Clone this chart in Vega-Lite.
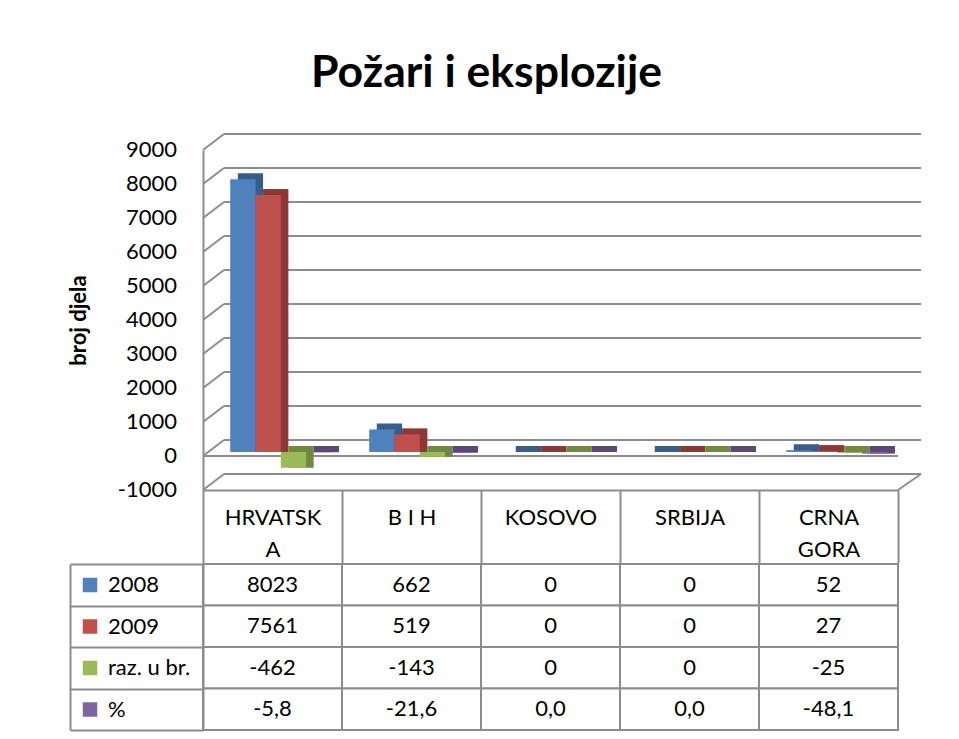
{
  "$schema": "https://vega.github.io/schema/vega-lite/v6.json",
  "background": "white",
  "padding": {"left": 67, "top": 50, "right": 5, "bottom": 5},
  "title": {"text": "Požari i eksplozije", "font": "Lato", "fontSize": 44.5, "fontWeight": "bold", "color": "#000000", "anchor": "middle", "frame": "bounds", "offset": 37, "dx": -8},
  "datasets": {
    "d": [
      {"drzava": "HRVATSKA", "serija": "2008", "v": 8023},
      {"drzava": "HRVATSKA", "serija": "2009", "v": 7561},
      {"drzava": "HRVATSKA", "serija": "raz. u br.", "v": -462},
      {"drzava": "HRVATSKA", "serija": "%", "v": -5.8},
      {"drzava": "B I H", "serija": "2008", "v": 662},
      {"drzava": "B I H", "serija": "2009", "v": 519},
      {"drzava": "B I H", "serija": "raz. u br.", "v": -143},
      {"drzava": "B I H", "serija": "%", "v": -21.6},
      {"drzava": "KOSOVO", "serija": "2008", "v": 0},
      {"drzava": "KOSOVO", "serija": "2009", "v": 0},
      {"drzava": "KOSOVO", "serija": "raz. u br.", "v": 0},
      {"drzava": "KOSOVO", "serija": "%", "v": 0.0},
      {"drzava": "SRBIJA", "serija": "2008", "v": 0},
      {"drzava": "SRBIJA", "serija": "2009", "v": 0},
      {"drzava": "SRBIJA", "serija": "raz. u br.", "v": 0},
      {"drzava": "SRBIJA", "serija": "%", "v": 0.0},
      {"drzava": "CRNA GORA", "serija": "2008", "v": 52},
      {"drzava": "CRNA GORA", "serija": "2009", "v": 27},
      {"drzava": "CRNA GORA", "serija": "raz. u br.", "v": -25},
      {"drzava": "CRNA GORA", "serija": "%", "v": -48.1}
    ],
    "grid": [
      {"v": -1000}, {"v": 0}, {"v": 1000}, {"v": 2000}, {"v": 3000}, {"v": 4000},
      {"v": 5000}, {"v": 6000}, {"v": 7000}, {"v": 8000}, {"v": 9000}
    ]
  },
  "spacing": 74,
  "bounds": "flush",
  "vconcat": [
    {
      "width": 695,
      "height": 340,
      "resolve": {"scale": {"xOffset": "independent", "color": "independent"}},
      "layer": [
        {
          "data": {"name": "grid"},
          "mark": {"type": "rule", "color": "#8c8c8c", "strokeWidth": 2, "xOffset": 21, "x2Offset": 23, "yOffset": -16},
          "encoding": {
            "x": {"datum": "HRVATSKA", "type": "nominal", "bandPosition": 0,
                  "scale": {"domain": ["HRVATSKA", "B I H", "KOSOVO", "SRBIJA", "CRNA GORA"], "paddingInner": 0, "paddingOuter": 0},
                  "axis": {"title": null, "labelFont": "Lato", "labelFontSize": 22, "labelColor": "#000000", "labelAngle": 0,
                           "labelBaseline": "top", "labelPadding": -56, "labelLineHeight": 32, "labelOverlap": false,
                           "labelExpr": "datum.value == 'HRVATSKA' ? ['HRVATSK', 'A'] : datum.value == 'CRNA GORA' ? ['CRNA', 'GORA'] : datum.value",
                           "tickBand": "extent", "tickSize": 73, "tickColor": "#8c8c8c", "tickWidth": 2,
                           "domainColor": "#8c8c8c", "domainWidth": 2, "grid": false}},
            "x2": {"datum": "CRNA GORA", "bandPosition": 1},
            "y": {"field": "v", "type": "quantitative",
                  "scale": {"domain": [-1000, 9000], "nice": false, "zero": false},
                  "axis": {"title": "broj djela", "titleFont": "Lato", "titleFontSize": 22, "titleFontWeight": "bold", "titleColor": "#000000", "titlePadding": 113,
                           "labels": false, "ticks": false, "grid": false,
                           "domainColor": "#8c8c8c", "domainWidth": 2,
                           "values": [-1000, 0, 1000, 2000, 3000, 4000, 5000, 6000, 7000, 8000, 9000]}}
          }
        },
        {
          "data": {"name": "grid"},
          "mark": {"type": "rule", "color": "#8c8c8c", "strokeWidth": 2, "x2Offset": 21, "y2Offset": -16},
          "encoding": {
            "x": {"datum": "HRVATSKA", "type": "nominal", "bandPosition": 0},
            "x2": {"datum": "HRVATSKA", "bandPosition": 0},
            "y": {"field": "v", "type": "quantitative"},
            "y2": {"field": "v"}
          }
        },
        {
          "data": {"name": "grid"},
          "mark": {"type": "text", "font": "Lato", "fontSize": 22, "color": "#000000", "align": "right", "baseline": "middle", "xOffset": -26},
          "encoding": {
            "x": {"datum": "HRVATSKA", "type": "nominal", "bandPosition": 0},
            "y": {"field": "v", "type": "quantitative"},
            "text": {"field": "v", "type": "quantitative", "format": "d"}
          }
        },
        {
          "data": {"values": [{}]},
          "mark": {"type": "rule", "color": "#8c8c8c", "strokeWidth": 2, "x2Offset": 23, "y2Offset": -16},
          "encoding": {
            "x": {"datum": "CRNA GORA", "type": "nominal", "bandPosition": 1},
            "x2": {"datum": "CRNA GORA", "bandPosition": 1},
            "y": {"datum": -1000, "type": "quantitative"},
            "y2": {"datum": -1000}
          }
        },
        {
          "data": {"values": [{}]},
          "mark": {"type": "rule", "color": "#8c8c8c", "strokeWidth": 2},
          "encoding": {
            "y": {"datum": 0, "type": "quantitative"}
          }
        },
        {
          "data": {"name": "d"},
          "transform": [{"filter": "datum.v >= 0"}],
          "mark": {"type": "bar", "yOffset": -10, "y2Offset": -4},
          "encoding": {
            "x": {"field": "drzava", "type": "nominal"},
            "xOffset": {"field": "serija", "type": "nominal",
                        "scale": {"domain": ["2008", "2009", "raz. u br.", "%"], "paddingInner": 0, "paddingOuter": 0.747, "align": 0.92}},
            "y": {"field": "v", "type": "quantitative"},
            "y2": {"datum": 0},
            "color": {"field": "serija", "type": "nominal",
                      "scale": {"domain": ["2008", "2009", "raz. u br.", "%"], "range": ["#385D8A", "#8C3836", "#71893F", "#5C4776"]},
                      "legend": null}
          }
        },
        {
          "data": {"name": "d"},
          "transform": [{"filter": "datum.v < 0"}],
          "mark": {"type": "bar", "yOffset": -4, "y2Offset": -10},
          "encoding": {
            "x": {"field": "drzava", "type": "nominal"},
            "xOffset": {"field": "serija", "type": "nominal",
                        "scale": {"domain": ["2008", "2009", "raz. u br.", "%"], "paddingInner": 0, "paddingOuter": 0.747, "align": 0.92}},
            "y": {"field": "v", "type": "quantitative"},
            "y2": {"datum": 0},
            "color": {"field": "serija", "type": "nominal",
                      "scale": {"domain": ["2008", "2009", "raz. u br.", "%"], "range": ["#385D8A", "#8C3836", "#71893F", "#5C4776"]},
                      "legend": null}
          }
        },
        {
          "data": {"name": "d"},
          "mark": {"type": "bar", "yOffset": -4, "y2Offset": -4},
          "encoding": {
            "x": {"field": "drzava", "type": "nominal"},
            "xOffset": {"field": "serija", "type": "nominal",
                        "scale": {"domain": ["2008", "2009", "raz. u br.", "%"], "paddingInner": 0, "paddingOuter": 0.747, "align": 0.72}},
            "y": {"field": "v", "type": "quantitative"},
            "y2": {"datum": 0},
            "color": {"field": "serija", "type": "nominal",
                      "scale": {"domain": ["2008", "2009", "raz. u br.", "%"], "range": ["#4F81BD", "#C0504D", "#9BBB59", "#8064A2"]},
                      "legend": {"orient": "none", "legendX": -124, "legendY": 424, "direction": "vertical", "title": null,
                                 "symbolType": "square", "symbolSize": 210, "symbolStrokeWidth": 0,
                                 "labelFont": "Lato", "labelFontSize": 22, "labelColor": "#000000", "labelOffset": 7,
                                 "rowPadding": 19.5, "padding": 0}}
          }
        }
      ]
    },
    {
      "width": 695,
      "height": 166,
      "data": {"name": "d"},
      "resolve": {"axis": {"y": "independent"}},
      "layer": [
        {
          "mark": {"type": "rect", "fill": "white", "stroke": "#8c8c8c", "strokeWidth": 2},
          "encoding": {
            "x": {"field": "drzava", "type": "nominal",
                  "scale": {"domain": ["HRVATSKA", "B I H", "KOSOVO", "SRBIJA", "CRNA GORA"], "paddingInner": 0, "paddingOuter": 0},
                  "axis": null},
            "y": {"field": "serija", "type": "nominal",
                  "scale": {"domain": ["2008", "2009", "raz. u br.", "%"], "paddingInner": 0, "paddingOuter": 0},
                  "axis": {"orient": "left", "title": null, "labels": false, "tickBand": "extent", "tickSize": 133,
                           "tickColor": "#8c8c8c", "tickWidth": 2, "domainColor": "#8c8c8c", "domainWidth": 2, "grid": false}}
          }
        },
        {
          "transform": [{"filter": "datum.serija != '%'"}],
          "mark": {"type": "text", "font": "Lato", "fontSize": 22, "color": "#000000"},
          "encoding": {
            "x": {"field": "drzava", "type": "nominal", "axis": null},
            "y": {"field": "serija", "type": "nominal",
                  "axis": {"orient": "left", "offset": 133, "title": null, "labels": false, "ticks": false,
                           "domainColor": "#8c8c8c", "domainWidth": 2, "grid": false}},
            "text": {"field": "v", "type": "quantitative", "format": "d"}
          }
        },
        {
          "transform": [{"filter": "datum.serija == '%'"}],
          "mark": {"type": "text", "font": "Lato", "fontSize": 22, "color": "#000000"},
          "encoding": {
            "x": {"field": "drzava", "type": "nominal", "axis": null},
            "y": {"field": "serija", "type": "nominal", "axis": null},
            "text": {"field": "v", "type": "quantitative", "format": ".1f"}
          }
        }
      ]
    }
  ],
  "config": {
    "view": {"stroke": null},
    "font": "Lato",
    "locale": {"number": {"decimal": ",", "thousands": ".", "grouping": [3], "currency": ["", ""], "minus": "-"}}
  }
}
